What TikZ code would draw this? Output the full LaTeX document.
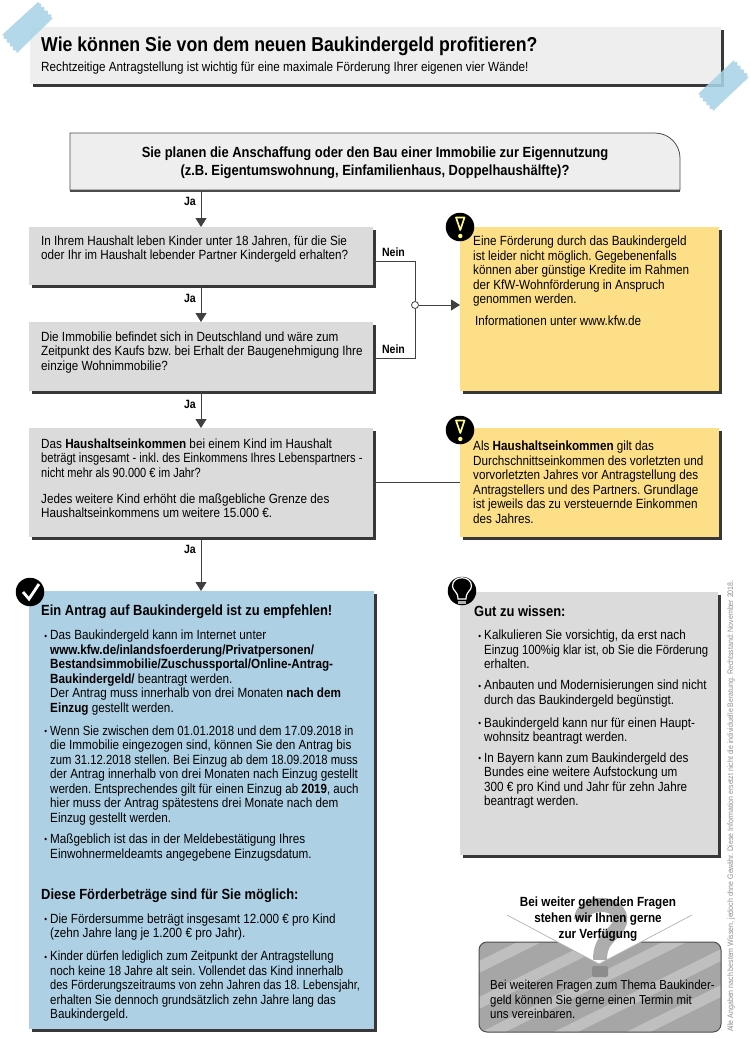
\documentclass[tikz,border=0pt]{standalone}
\usepackage{fontspec}
\usepackage{graphicx}
\setmainfont[FakeStretch=0.88]{Liberation Sans}
\usetikzlibrary{arrows.meta,shadows,decorations.pathmorphing}
\definecolor{boxgray}{HTML}{DBDBDB}
\definecolor{boxyellow}{HTML}{FDDF88}
\definecolor{boxblue}{HTML}{AED0E4}
\definecolor{tapeblue}{HTML}{A9D3E6}
\definecolor{boxlight}{HTML}{EEEEEE}
\tikzset{
  box/.style={rectangle, inner sep=0pt, outer sep=0pt, fill=#1,
    drop shadow={shadow xshift=3pt, shadow yshift=-3pt, fill=black!78, opacity=1}},
  txt/.style={anchor=north west, inner sep=0pt, align=left, font=\fontsize{13.3}{14.5}\selectfont},
  head/.style={anchor=west, inner sep=0pt, font=\fontsize{14.7}{17}\selectfont\bfseries},
  label/.style={inner sep=0pt, font=\fontsize{12}{14}\selectfont\bfseries},
  link/.style={draw=black!75, line width=0.8pt},
  flow/.style={link, -{Triangle[width=11pt,length=9pt]}},
  badge/.style={circle, fill=black, inner sep=0pt, minimum size=28.5pt},
  warnmark/.style={draw=yellow!45!white, fill=black, line width=1.7pt, line join=round},
  tape/.style={fill=tapeblue, fill opacity=0.88, decoration={zigzag, segment length=5pt, amplitude=1.1pt}}
}
\newcommand{\bul}{\llap{\raisebox{0.8pt}{\fontsize{9}{9}\selectfont\textbullet}\hspace{3pt}}}
\newcommand{\sq}[2]{\scalebox{#1}[1]{#2}}
\begin{document}
\frenchspacing
\begin{tikzpicture}[x=1pt, y=-1pt]
    \useasboundingbox (0,0) rectangle (750,1039);
    % title
    \node[box=boxlight, minimum width=691pt, minimum height=57pt] (title) at (375.5,55.5) {};
    \node[anchor=west, inner sep=0pt, font=\fontsize{20.1}{24}\selectfont\bfseries] (titletext) at (41,46) {Wie können Sie von dem neuen Baukindergeld profitieren?};
    \node[anchor=west, inner sep=0pt, font=\fontsize{13.3}{14}\selectfont] (subtitle) at (41,68) {Rechtzeitige Antragstellung ist wichtig für eine maximale Förderung Ihrer eigenen vier Wände!};
    \fill[tape] (38,2) -- (2,35) decorate {-- (17,53)} -- (53,18) decorate {-- (38,2)} -- cycle;
    \fill[tape] (734,60) -- (698,94) decorate {-- (713,111)} -- (749,77) decorate {-- (734,60)} -- cycle;
    % question on top
    \coordinate (axis) at (201,0);
    \draw[draw=black!70, line width=0.8pt, fill=boxlight] (70,190) -- (70,133) -- (655,133) to[out=0, in=90] (680,158) -- (680,190) -- cycle;
    \node[inner sep=0pt, outer sep=0pt, minimum width=610pt, minimum height=58pt] (plan) at (375,162) {};
    \draw[black!70, line width=2pt] (plan.south west) -- (plan.south east);
    \node[inner sep=0pt, align=center, font=\fontsize{14.7}{17.5}\selectfont\bfseries] (plantext) at (375,162.5) {Sie planen die Anschaffung oder den Bau einer Immobilie zur Eigennutzung\\(z.B. Eigentumswohnung, Einfamilienhaus, Doppelhaushälfte)?};
    % grey boxes
    \node[box=boxgray, minimum width=344pt, minimum height=58pt] (kinder) at (201,256) {};
    \node[box=boxgray, minimum width=344pt, minimum height=69pt] (wohn) at (201,356.5) {};
    \node[box=boxgray, minimum width=344pt, minimum height=109pt] (einkommen) at (201,482.5) {};
    \node[txt] (kindertext) at (41,235.5) {In Ihrem Haushalt leben Kinder unter 18 Jahren, für die Sie\\oder Ihr im Haushalt lebender Partner Kindergeld erhalten?};
    \node[txt] (wohntext) at (41,331.5) {Die Immobilie befindet sich in Deutschland und wäre zum\\Zeitpunkt des Kaufs bzw. bei Erhalt der Baugenehmigung Ihre\\einzige Wohnimmobilie?};
    \node[txt] (einkommentext) at (41,438.5) {Das \textbf{Haushaltseinkommen} bei einem Kind im Haushalt\\\sq{.95}{beträgt insgesamt - inkl. des Einkommens Ihres Lebenspartners -}\\\sq{.94}{nicht mehr als 90.000 € im Jahr?}\\[11.5pt]Jedes weitere Kind erhöht die maßgebliche Grenze des\\Haushaltseinkommens um weitere 15.000 €.};
    % yellow boxes
    \node[box=boxyellow, minimum width=259pt, minimum height=164pt] (foerder) at (589.5,309) {};
    \node[box=boxyellow, minimum width=259pt, minimum height=109pt] (hinweis) at (589.5,482.5) {};
    \node[txt] (foerdertext) at (473,235.8) {Eine Förderung durch das Baukindergeld\\ist leider nicht möglich. Gegebenenfalls\\können aber günstige Kredite im Rahmen\\der KfW-Wohnförderung in Anspruch\\genommen werden.};
    \node[txt] (kfw) at (475,316) {Informationen unter www.kfw.de};
    \node[txt] (hinweistext) at (473,441) {Als \textbf{Haushaltseinkommen} gilt das\\Durchschnittseinkommen des vorletzten und\\vorvorletzten Jahres vor Antragstellung des\\Antragstellers und des Partners. Grundlage\\ist jeweils das zu versteuernde Einkommen\\des Jahres.};
    % blue box
    \node[box=boxblue, minimum width=345pt, minimum height=438pt] (antrag) at (201.5,810) {};
    \node[head] (antraghead) at (41,612) {Ein Antrag auf Baukindergeld ist zu empfehlen!};
    \node[txt] (antraga) at (50,630) {\bul Das Baukindergeld kann im Internet unter\\\textbf{www.kfw.de/inlandsfoerderung/Privatpersonen/}\\\textbf{Bestandsimmobilie/Zuschussportal/Online-Antrag-}\\\textbf{Baukindergeld/} beantragt werden.\\Der Antrag muss innerhalb von drei Monaten \textbf{nach dem}\\\textbf{Einzug} gestellt werden.};
    \node[txt] (antragb) at (50,725.5) {\bul \sq{.97}{Wenn Sie zwischen dem 01.01.2018 und dem 17.09.2018 in}\\die Immobilie eingezogen sind, können Sie den Antrag bis\\\sq{.965}{zum 31.12.2018 stellen. Bei Einzug ab dem 18.09.2018 muss}\\der Antrag innerhalb von drei Monaten nach Einzug gestellt\\\sq{.985}{werden. Entsprechendes gilt für einen Einzug ab \textbf{2019}, auch}\\hier muss der Antrag spätestens drei Monate nach dem\\Einzug gestellt werden.};
    \node[txt] (antragc) at (50,833.8) {\bul Maßgeblich ist das in der Meldebestätigung Ihres\\Einwohnermeldeamts angegebene Einzugsdatum.};
    \node[head] (betraghead) at (41,896) {Diese Förderbeträge sind für Sie möglich:};
    \node[txt] (betraga) at (50,913.5) {\bul Die Fördersumme beträgt insgesamt 12.000 € pro Kind\\(zehn Jahre lang je 1.200 € pro Jahr).};
    \node[txt] (betragb) at (50,951) {\bul \sq{.975}{Kinder dürfen lediglich zum Zeitpunkt der Antragstellung}\\\sq{.975}{noch keine 18 Jahre alt sein. Vollendet das Kind innerhalb}\\\sq{.945}{des Förderungszeitraums von zehn Jahren das 18. Lebensjahr,}\\\sq{.98}{erhalten Sie dennoch grundsätzlich zehn Jahre lang das}\\Baukindergeld.};
    % good to know
    \node[box=boxgray, minimum width=258pt, minimum height=263pt] (gut) at (589,723.5) {};
    \node[head] (guthead) at (474,611) {Gut zu wissen:};
    \node[txt] (guta) at (484,630) {\bul Kalkulieren Sie vorsichtig, da erst nach\\\sq{.97}{Einzug 100\%ig klar ist, ob Sie die Förderung}\\erhalten.};
    \node[txt] (gutb) at (484,680) {\bul Anbauten und Modernisierungen sind nicht\\durch das Baukindergeld begünstigt.};
    \node[txt] (gutc) at (484,717.5) {\bul Baukindergeld kann nur für einen Haupt-\\wohnsitz beantragt werden.};
    \node[txt] (gutd) at (484,752.5) {\bul In Bayern kann zum Baukindergeld des\\Bundes eine weitere Aufstockung um\\300 € pro Kind und Jahr für zehn Jahre\\beantragt werden.};
    % further questions
    \node[rectangle, rounded corners=8pt, fill=black!35, minimum width=242pt, minimum height=90pt, inner sep=0pt, outer sep=0pt] (frage) at (600,987) {};
    \begin{scope}
      \clip[rounded corners=8pt] (frage.north west) rectangle (frage.south east);
      \foreach \s in {0,36,...,360} {
        \fill[black!25] (479,1105-\s) -- (721,985-\s) -- (721,997-\s) -- (479,1117-\s) -- cycle;
      }
    \end{scope}
    \draw[black!70, line width=1pt, rounded corners=8pt] (frage.north west) rectangle (frage.south east);
    \coordinate (funnela) at (507,915);
    \coordinate (funnelb) at (599,964);
    \coordinate (funnelc) at (692,915);
    \fill[white] (funnela) -- (funnelb) -- (funnelc) -- cycle;
    \draw[black!30, line width=0.7pt] (funnela) -- (funnelb) -- (funnelc);
    \draw[black!32, line width=14pt] (581,920) .. controls (581,899) and (624,900) .. (620,922) .. controls (616,936) and (600,936) .. (600,960);
    \fill[black!45, rounded corners=2pt] (592,966) rectangle (608,977);
    \node[inner sep=0pt, align=center, font=\fontsize{13.3}{16.2}\selectfont\bfseries] (fragehead) at (598,919) {Bei weiter gehenden Fragen\\stehen wir Ihnen gerne\\zur Verfügung};
    \node[txt, font=\fontsize{13}{14.5}\selectfont] (fragetext) at (490,980) {Bei weiteren Fragen zum Thema Baukinder-\\geld können Sie gerne einen Termin mit\\uns vereinbaren.};
    % connectors
    \draw[flow] (plan.south -| axis) -- (kinder.north);
    \draw[flow] (kinder.south) -- (wohn.north);
    \draw[flow] (wohn.south) -- (einkommen.north);
    \draw[flow] (einkommen.south) -- (antrag.north -| axis);
    \node[label] (jaa) at (190,201) {Ja};
    \node[label] (jab) at (190,298) {Ja};
    \node[label] (jac) at (190,404) {Ja};
    \node[label] (jad) at (190,549) {Ja};
    \node[circle, draw=black!75, fill=white, line width=0.8pt, inner sep=0pt, minimum size=7pt] (join) at (415,305) {};
    \coordinate (neina) at (415,261);
    \coordinate (neinb) at (415,358);
    \draw[link] (kinder.east |- neina) -- (neina) -- (join);
    \draw[link] (wohn.east |- neinb) -- (neinb) -- (join);
    \draw[flow] (join) -- (foerder.west |- join);
    \draw[link] (einkommen.east) -- (hinweis.west);
    \node[label] (neinlabela) at (393.5,252) {Nein};
    \node[label] (neinlabelb) at (393.5,349.5) {Nein};
    % badges
    \node[badge] (warna) at (460,227) {};
    \draw[warnmark] (456,217.5) -- (464.5,217.5) -- (460.3,230) -- cycle;
    \fill[yellow!45!white] (460.3,236) circle (2.2);
    \node[badge] (warnb) at (460,430) {};
    \draw[warnmark] (456,420.5) -- (464.5,420.5) -- (460.3,433) -- cycle;
    \fill[yellow!45!white] (460.3,439) circle (2.2);
    \node[badge] (ok) at (30,592) {};
    \draw[white, line width=2.8pt] (23,592) -- (29,599) -- (39,584);
    \node[badge] (bulb) at (462,591) {};
    \draw[white, line width=1.2pt] (458,599) .. controls (458,591) and (452.5,591) .. (452.5,586) .. controls (452.5,575) and (471.5,575) .. (471.5,586) .. controls (471.5,591) and (466,591) .. (466,599) -- cycle;
    \fill[black!30] (458,600.5) rectangle (466,603.5);
    % side note
    \node[rotate=90, anchor=west, inner sep=0pt, text=black!45, font=\fontsize{7.95}{10}\selectfont] (note) at (731,1032) {Alle Angaben nach bestem Wissen, jedoch ohne Gewähr. Diese Information ersetzt nicht die individuelle Beratung. Rechtsstand: November 2018.};
  \end{tikzpicture}
\end{document}
